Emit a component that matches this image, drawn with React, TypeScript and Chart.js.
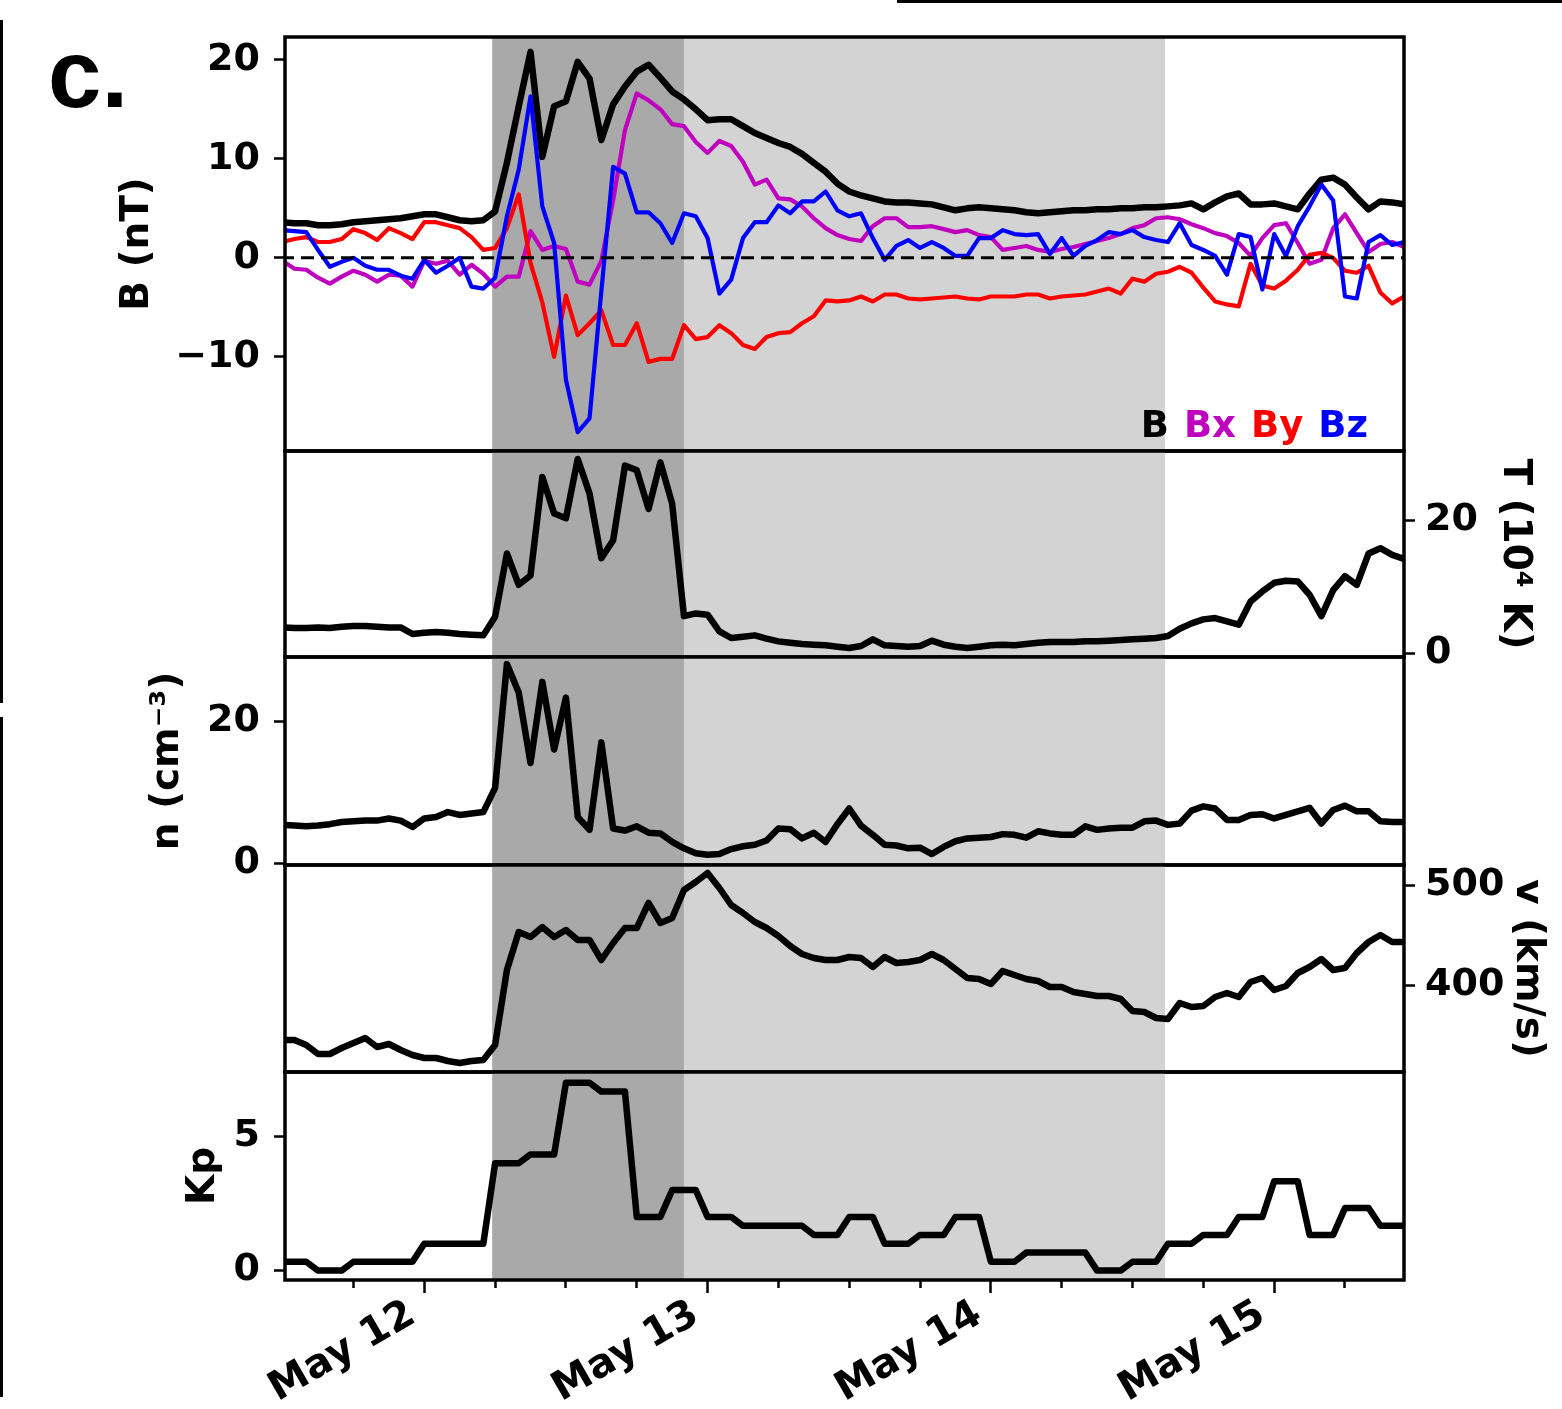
import React, { useEffect, useRef } from 'react';
import { Chart, registerables } from 'chart.js';

Chart.register(...registerables);

// ---------------- data ----------------
// hours since 2024-05-11 00:00 UT (hourly samples)
const HOURS: number[] = Array.from({ length: 96 }, (_, i) => 12 + i);

const B_TOTAL = [
  3.6, 3.5, 3.5, 3.3, 3.3, 3.4, 3.6, 3.7, 3.8, 3.9, 4.0, 4.2, 4.4, 4.4, 4.1, 3.8, 3.7, 3.8,
  4.7, 9.6, 15.3, 20.8, 10.2, 15.3, 15.8, 19.8, 18.1, 11.9, 15.5, 17.3, 18.8, 19.5, 18.2, 16.8, 16.0,
  15.0, 13.9, 14.0, 14.0, 13.3, 12.6, 12.1, 11.6, 11.2, 10.5, 9.6, 8.7, 7.5, 6.7, 6.3, 6.0, 5.7,
  5.6, 5.6, 5.5, 5.4, 5.1, 4.8, 5.0, 5.1, 5.0, 4.9, 4.8, 4.6, 4.5, 4.6,
  4.7, 4.8, 4.8, 4.9, 4.9, 5.0, 5.0, 5.1, 5.1, 5.2, 5.3, 5.5, 4.9, 5.6, 6.2, 6.5, 5.4, 5.4, 5.5,
  5.2, 4.9, 6.5, 7.9, 8.1, 7.4, 6.1, 4.9, 5.7, 5.6, 5.4,
];
const BX = [
  -0.3, -1.1, -1.2, -2.0, -2.6, -1.9, -1.3, -1.7, -2.4, -1.7, -1.8, -2.9, -0.3, -0.6, -0.3, -1.7, -0.7, -1.6,
  -2.9, -1.9, -1.9, 2.7, 0.8, 1.2, 0.9, -2.4, -2.7, -0.3, 5.8, 12.9, 16.6, 15.9, 15.0, 13.5, 13.3,
  11.7, 10.6, 11.8, 11.3, 9.7, 7.4, 7.9, 6.0, 5.9, 5.2, 4.0, 3.0, 2.3, 1.9, 1.7, 3.2, 4.0,
  4.0, 3.1, 3.1, 3.2, 2.9, 2.6, 2.8, 2.3, 2.1, 0.8, 1.0, 1.2, 0.8, 0.6,
  0.9, 1.1, 1.4, 1.7, 2.0, 2.4, 3.0, 3.3, 4.0, 4.1, 3.9, 3.4, 3.0, 2.5, 2.2, 1.5, 0.2, 2.0, 3.3,
  3.5, 1.5, -0.6, -0.2, 3.0, 4.4, 2.5, 0.6, 1.4, 1.6, 1.1,
];
const BY = [
  1.6, 1.9, 2.1, 1.6, 1.6, 1.9, 2.9, 2.5, 1.8, 3.0, 2.5, 1.9, 3.6, 3.6, 3.3, 3.0, 2.1, 0.8,
  1.0, 3.0, 6.4, -0.5, -4.5, -10.0, -3.8, -7.8, -6.6, -5.3, -8.8, -8.8, -6.6, -10.5, -10.2, -10.2, -6.8,
  -8.2, -8.0, -6.8, -7.6, -8.8, -9.2, -8.0, -7.6, -7.5, -6.6, -5.9, -4.3, -4.4, -4.3, -3.9, -4.4, -3.7,
  -3.7, -4.1, -4.2, -4.1, -4.0, -3.9, -4.1, -4.2, -3.9, -3.9, -3.9, -3.7, -3.7, -4.1,
  -3.9, -3.8, -3.7, -3.4, -3.1, -3.6, -2.1, -2.4, -1.6, -1.4, -0.9, -1.5, -3.0, -4.4, -4.7, -4.9, -0.6, -2.8, -3.1,
  -2.3, -1.2, 0.3, 0.5, 0.0, -1.3, -1.5, -0.8, -3.5, -4.6, -3.9,
];
const BZ = [
  2.8, 2.7, 2.6, 0.8, -0.9, -0.4, 0.0, -0.8, -1.2, -1.2, -1.8, -2.1, -0.2, -1.5, -0.8, 0.0, -2.9, -3.1,
  -2.0, 4.2, 8.9, 16.3, 5.2, 1.5, -12.3, -17.6, -16.2, -3.4, 9.2, 8.5, 4.6, 4.6, 3.5, 1.5, 4.5,
  4.2, 2.0, -3.6, -2.2, 2.0, 3.6, 3.6, 5.3, 4.5, 5.7, 5.7, 6.7, 4.8, 4.2, 4.5, 2.0, -0.2,
  1.2, 1.8, 1.0, 1.6, 1.0, 0.2, 0.2, 2.0, 2.0, 2.8, 2.4, 2.3, 2.4, 0.4,
  2.0, 0.2, 1.2, 1.8, 2.6, 2.4, 2.8, 2.1, 1.8, 1.6, 3.5, 1.3, 0.8, 0.2, -1.7, 2.4, 2.1, -3.2, 2.4,
  0.2, 3.2, 5.2, 7.4, 5.8, -3.9, -4.1, 1.6, 2.3, 1.3, 1.6,
];
// proton temperature, 10^4 K
const TEMP = [
  3.9, 3.8, 3.8, 3.9, 3.8, 4.0, 4.1, 4.1, 4.0, 3.9, 3.9, 2.9, 3.1, 3.2, 3.1, 2.9, 2.8, 2.7,
  5.5, 15.0, 10.3, 11.7, 26.5, 21.0, 20.3, 29.2, 24.0, 14.3, 17.0, 28.2, 27.5, 21.7, 28.7, 22.5, 5.6,
  6.0, 5.8, 3.3, 2.3, 2.5, 2.7, 2.2, 1.8, 1.6, 1.4, 1.3, 1.2, 1.0, 0.8, 1.1, 2.1, 1.2,
  1.1, 1.0, 1.1, 1.9, 1.3, 1.0, 0.8, 1.0, 1.2, 1.3, 1.2, 1.4, 1.6, 1.7,
  1.7, 1.7, 1.8, 1.8, 1.9, 2.0, 2.1, 2.2, 2.3, 2.6, 3.7, 4.5, 5.1, 5.3, 4.8, 4.3, 7.8, 9.3, 10.6,
  10.9, 10.8, 8.8, 5.6, 9.5, 11.6, 10.3, 15.0, 15.8, 14.8, 14.2,
];
// proton density, cm^-3
const DENS = [
  5.4, 5.3, 5.2, 5.3, 5.5, 5.8, 5.9, 6.0, 6.0, 6.3, 6.0, 5.1, 6.3, 6.5, 7.2, 6.8, 7.0, 7.2,
  10.6, 28.0, 24.0, 14.1, 25.5, 16.0, 23.3, 6.5, 4.7, 17.0, 4.9, 4.6, 5.2, 4.3, 4.2, 3.0, 2.1,
  1.4, 1.2, 1.3, 2.0, 2.4, 2.6, 3.2, 4.9, 4.8, 3.5, 4.3, 3.0, 5.5, 7.7, 5.3, 4.0, 2.6,
  2.5, 2.1, 2.2, 1.3, 2.3, 3.1, 3.5, 3.6, 3.7, 4.1, 4.0, 3.6, 4.5, 4.2,
  4.0, 4.0, 5.2, 4.7, 4.9, 5.0, 5.0, 5.9, 6.0, 5.4, 5.6, 7.4, 8.0, 7.7, 6.1, 6.1, 6.8, 6.9, 6.3,
  6.8, 7.3, 7.8, 5.6, 7.5, 8.1, 7.3, 7.3, 5.9, 5.8, 5.8,
];
// solar wind speed, km/s
const SPEED = [
  345, 345, 340, 331, 331, 337, 342, 347, 338, 341, 335, 330, 327, 327, 324, 322, 324, 325,
  340, 415, 453, 448, 458, 448, 455, 445, 445, 425, 442, 457, 457, 482, 462, 467, 495,
  503, 512, 497, 480, 472, 463, 457, 449, 439, 431, 427, 425, 425, 428, 427, 418, 428,
  422, 423, 425, 431, 425, 416, 407, 406, 401, 414, 410, 406, 404, 398,
  398, 393, 391, 389, 389, 386, 374, 373, 367, 366, 382, 378, 379, 388, 392, 388, 403, 407, 395,
  399, 412, 418, 426, 415, 417, 432, 443, 450, 443, 443,
];
// Kp index, 3-hour blocks (start hour, value)
const KP_BLOCK_START = [12, 15, 18, 21, 24, 27, 30, 33, 36, 39, 42, 45, 48, 51, 54, 57, 60, 63, 66, 69, 72, 75, 78, 81, 84, 87, 90, 93, 96, 99, 102, 105];
const KP_VALUES = [0.33, 0, 0.33, 0.33, 1, 1, 4, 4.33, 7, 6.67, 2, 3, 2, 1.67, 1.67, 1.33, 2, 1, 1.33, 2, 0.33, 0.67, 0.67, 0, 0.33, 1, 1.33, 2, 3.33, 1.33, 2.33, 1.67];
const KP_SAMPLE_SPAN = 2; // each 3-h value appears on the hourly samples t, t+1, t+2

// shaded intervals (hours)
const SHADE_START = [29.75, 46];
const SHADE_END = [46, 86.75];
const SHADE_COLORS = ['#a9a9a9', '#d3d3d3'];

// axes
const X_MIN = 12.2;
const X_MAX = 107;
const DAY_TICKS = [24, 48, 72, 96];
const DAY_LABELS = ['May 12', 'May 13', 'May 14', 'May 15'];
const MINOR_TICKS = [18, 30, 36, 42, 54, 60, 66, 78, 84, 90, 102];
const B_TICKS = [-10, 0, 10, 20];
const T_TICKS = [0, 20];
const N_TICKS = [0, 20];
const V_TICKS = [400, 500];
const KP_TICKS = [0, 5];

// ---------------- layout / style ----------------
const PAGE_W = 1562;
const PAGE_H = 1409;
const AREA_L = 285;
const AREA_R = 1404;
const FONT = "'DejaVu Sans', sans-serif";
const TICK_SIZE = 38;
const X_TICK_SIZE = 40;
const LEGEND_SIZE = 37;
const TITLE_SIZE = 39;
const BLACK_W = 6.5;
const COLOR_W = 4.2;

type Panel = {
  top: number;
  bottom: number;
  side: 'left' | 'right';
  yMin: number;
  yMax: number;
  yTicks: number[];
  title: string;
  titleX: number;
  datasets: any[];
  showX?: boolean;
  legend?: boolean;
};

const pts = (arr: number[]) => HOURS.map((h, i) => ({ x: h, y: arr[i] }));
const line = (arr: number[], color: string, width: number, extra: any = {}) => ({
  data: pts(arr),
  borderColor: color,
  backgroundColor: color,
  borderWidth: width,
  pointRadius: 0,
  tension: 0,
  fill: false,
  borderJoinStyle: 'round',
  ...extra,
});

const kpPoints = KP_BLOCK_START.flatMap((t, i) => [
  { x: t, y: KP_VALUES[i] },
  { x: t + KP_SAMPLE_SPAN, y: KP_VALUES[i] },
]);

const PANELS: Panel[] = [
  {
    top: 37, bottom: 451, side: 'left', yMin: -19.5, yMax: 22.3, yTicks: B_TICKS,
    title: 'B (nT)', titleX: 138, legend: true,
    datasets: [
      line(B_TOTAL, '#000000', BLACK_W, { label: 'B', order: 4 }),
      line(BX, '#bf00bf', COLOR_W, { label: 'Bx', order: 3 }),
      line(BY, '#ff0000', COLOR_W, { label: 'By', order: 2 }),
      line(BZ, '#0000ff', COLOR_W, { label: 'Bz', order: 1 }),
      {
        data: [{ x: 0, y: 0 }, { x: 200, y: 0 }],
        borderColor: '#000000', borderWidth: 3, borderDash: [13, 7],
        pointRadius: 0, fill: false, order: 0, label: '',
      },
    ],
  },
  {
    top: 451, bottom: 657, side: 'right', yMin: -0.55, yMax: 30.4, yTicks: T_TICKS,
    title: 'T (10\u2074 K)', titleX: 1514,
    datasets: [line(TEMP, '#000000', BLACK_W)],
  },
  {
    top: 657, bottom: 865, side: 'left', yMin: -0.24, yMax: 29.0, yTicks: N_TICKS,
    title: 'n (cm\u207B\u00B3)', titleX: 168,
    datasets: [line(DENS, '#000000', BLACK_W)],
  },
  {
    top: 865, bottom: 1072, side: 'right', yMin: 313, yMax: 520, yTicks: V_TICKS,
    title: 'v (km/s)', titleX: 1527,
    datasets: [line(SPEED, '#000000', BLACK_W)],
  },
  {
    top: 1072, bottom: 1280, side: 'left', yMin: -0.35, yMax: 7.4, yTicks: KP_TICKS,
    title: 'Kp', titleX: 204, showX: true,
    datasets: [
      {
        data: kpPoints, borderColor: '#000000', borderWidth: BLACK_W, pointRadius: 0,
        tension: 0, fill: false, borderJoinStyle: 'round',
      },
    ],
  },
];

const canvasBox = (p: Panel) => {
  const top = Math.max(0, p.top - 60);
  const bottom = p.showX ? PAGE_H : p.bottom + 60;
  return { top, height: bottom - top, bottom };
};

// ---------------- plugins ----------------
const shadePlugin = {
  id: 'shade',
  beforeDatasetsDraw(chart: any) {
    const { ctx, chartArea, scales } = chart;
    ctx.save();
    SHADE_START.forEach((s, i) => {
      const x0 = Math.max(chartArea.left, scales.x.getPixelForValue(s));
      const x1 = Math.min(chartArea.right, scales.x.getPixelForValue(SHADE_END[i]));
      ctx.fillStyle = SHADE_COLORS[i];
      ctx.fillRect(x0, chartArea.top, x1 - x0, chartArea.bottom - chartArea.top);
    });
    ctx.restore();
  },
};

const framePlugin = {
  id: 'frame',
  afterDatasetsDraw(chart: any) {
    const { ctx, chartArea } = chart;
    ctx.save();
    ctx.strokeStyle = '#000';
    ctx.lineWidth = 3.5;
    ctx.strokeRect(chartArea.left, chartArea.top, chartArea.right - chartArea.left, chartArea.bottom - chartArea.top);
    ctx.restore();
  },
};

const textLegendPlugin = {
  id: 'textLegend',
  afterDatasetsDraw(chart: any, _args: any, opts: any) {
    if (!opts || !opts.enabled) return;
    const { ctx, chartArea } = chart;
    const items = chart.data.datasets.filter((d: any) => d.label);
    ctx.save();
    ctx.font = `bold ${LEGEND_SIZE}px ${FONT}`;
    ctx.textBaseline = 'alphabetic';
    ctx.textAlign = 'left';
    const gap = 15;
    const widths = items.map((d: any) => ctx.measureText(d.label).width);
    const total = widths.reduce((a: number, b: number) => a + b, 0) + gap * (items.length - 1);
    let x = chartArea.right - 36 - total;
    const y = chartArea.bottom - 14;
    items.forEach((d: any, i: number) => {
      ctx.fillStyle = d.borderColor;
      ctx.fillText(d.label, x, y);
      x += widths[i] + gap;
    });
    ctx.restore();
  },
};

const tickFont = { family: FONT, size: TICK_SIZE, weight: 'bold' as const };

function buildConfig(p: Panel): any {
  const box = canvasBox(p);
  const left = p.side === 'left';
  const yWidth = left ? AREA_L : PAGE_W - AREA_R;
  const titlePad = left ? p.titleX - TITLE_SIZE / 2 : PAGE_W - p.titleX - TITLE_SIZE / 2;
  const xTicks = [...DAY_TICKS, ...MINOR_TICKS].sort((a, b) => a - b);
  const xScale: any = {
    type: 'linear',
    min: X_MIN,
    max: X_MAX,
    display: !!p.showX,
    afterBuildTicks: (s: any) => {
      s.ticks = xTicks.map((v) => ({ value: v }));
    },
    ticks: {
      autoSkip: false,
      minRotation: 30,
      maxRotation: 30,
      padding: -2,
      labelOffset: -12,
      color: '#000',
      font: { family: FONT, size: X_TICK_SIZE, weight: 'bold' },
      callback: (v: number) => {
        const i = DAY_TICKS.indexOf(v);
        return i >= 0 ? DAY_LABELS[i] : '';
      },
    },
    grid: {
      drawOnChartArea: false,
      drawTicks: true,
      tickLength: 13,
      tickWidth: 2.5,
      tickColor: '#000',
      tickBorderDash: (ctx: any) =>
        ctx.tick && DAY_TICKS.indexOf(ctx.tick.value) >= 0 ? [] : [8, 60],
    },
    border: { display: false },
  };
  if (p.showX) {
    xScale.afterFit = (s: any) => {
      s.height = PAGE_H - p.bottom;
    };
  }
  return {
    type: 'line',
    data: { datasets: p.datasets },
    plugins: [shadePlugin, framePlugin, textLegendPlugin],
    options: {
      responsive: false,
      maintainAspectRatio: false,
      animation: false,
      events: [],
      layout: {
        padding: {
          top: p.top - box.top,
          bottom: p.showX ? 0 : box.bottom - p.bottom,
          left: left ? 0 : AREA_L,
          right: left ? PAGE_W - AREA_R : 0,
        },
      },
      plugins: {
        legend: { display: false },
        tooltip: { enabled: false },
        textLegend: { enabled: !!p.legend },
      },
      scales: {
        x: xScale,
        y: {
          type: 'linear',
          position: p.side,
          min: p.yMin,
          max: p.yMax,
          afterBuildTicks: (s: any) => {
            s.ticks = p.yTicks.map((v) => ({ value: v }));
          },
          afterFit: (s: any) => {
            s.width = yWidth;
          },
          ticks: {
            padding: left ? 14 : 10,
            color: '#000',
            font: tickFont,
            callback: (v: number) => (v < 0 ? '\u2212' + Math.abs(v) : String(v)),
          },
          grid: {
            drawOnChartArea: false,
            drawTicks: true,
            tickLength: 11,
            tickWidth: 2.5,
            tickColor: '#000',
          },
          border: { display: false },
          title: {
            display: true,
            text: p.title,
            color: '#000',
            font: { family: FONT, size: TITLE_SIZE, weight: 'bold', lineHeight: 1 },
            padding: { top: titlePad, bottom: 0 },
          },
        },
      },
    },
  };
}

export default function App() {
  const refs = useRef<(HTMLCanvasElement | null)[]>([]);

  useEffect(() => {
    const charts = PANELS.map((p, i) => new Chart(refs.current[i] as HTMLCanvasElement, buildConfig(p)));
    return () => charts.forEach((c) => c.destroy());
  }, []);

  return (
    <div
      style={{
        position: 'absolute', left: 0, top: 0, width: PAGE_W, height: PAGE_H,
        overflow: 'hidden', background: '#fff',
      }}
    >
      {PANELS.map((p, i) => {
        const box = canvasBox(p);
        return (
          <canvas
            key={i}
            ref={(el) => { refs.current[i] = el; }}
            width={PAGE_W}
            height={box.height}
            style={{ position: 'absolute', left: 0, top: box.top, width: PAGE_W, height: box.height }}
          />
        );
      })}
      <div
        style={{
          position: 'absolute', left: 48, top: 26, fontFamily: "'Liberation Sans', Arial, sans-serif",
          fontWeight: 'bold', fontSize: 96, lineHeight: '96px', color: '#000',
        }}
      >
        c.
      </div>
      <div style={{ position: 'absolute', left: 0, top: 20, width: 3, height: 683, background: '#000' }} />
      <div style={{ position: 'absolute', left: 0, top: 717, width: 3, height: 680, background: '#000' }} />
      <div style={{ position: 'absolute', left: 897, top: 0, width: 665, height: 3, background: '#000' }} />
    </div>
  );
}
